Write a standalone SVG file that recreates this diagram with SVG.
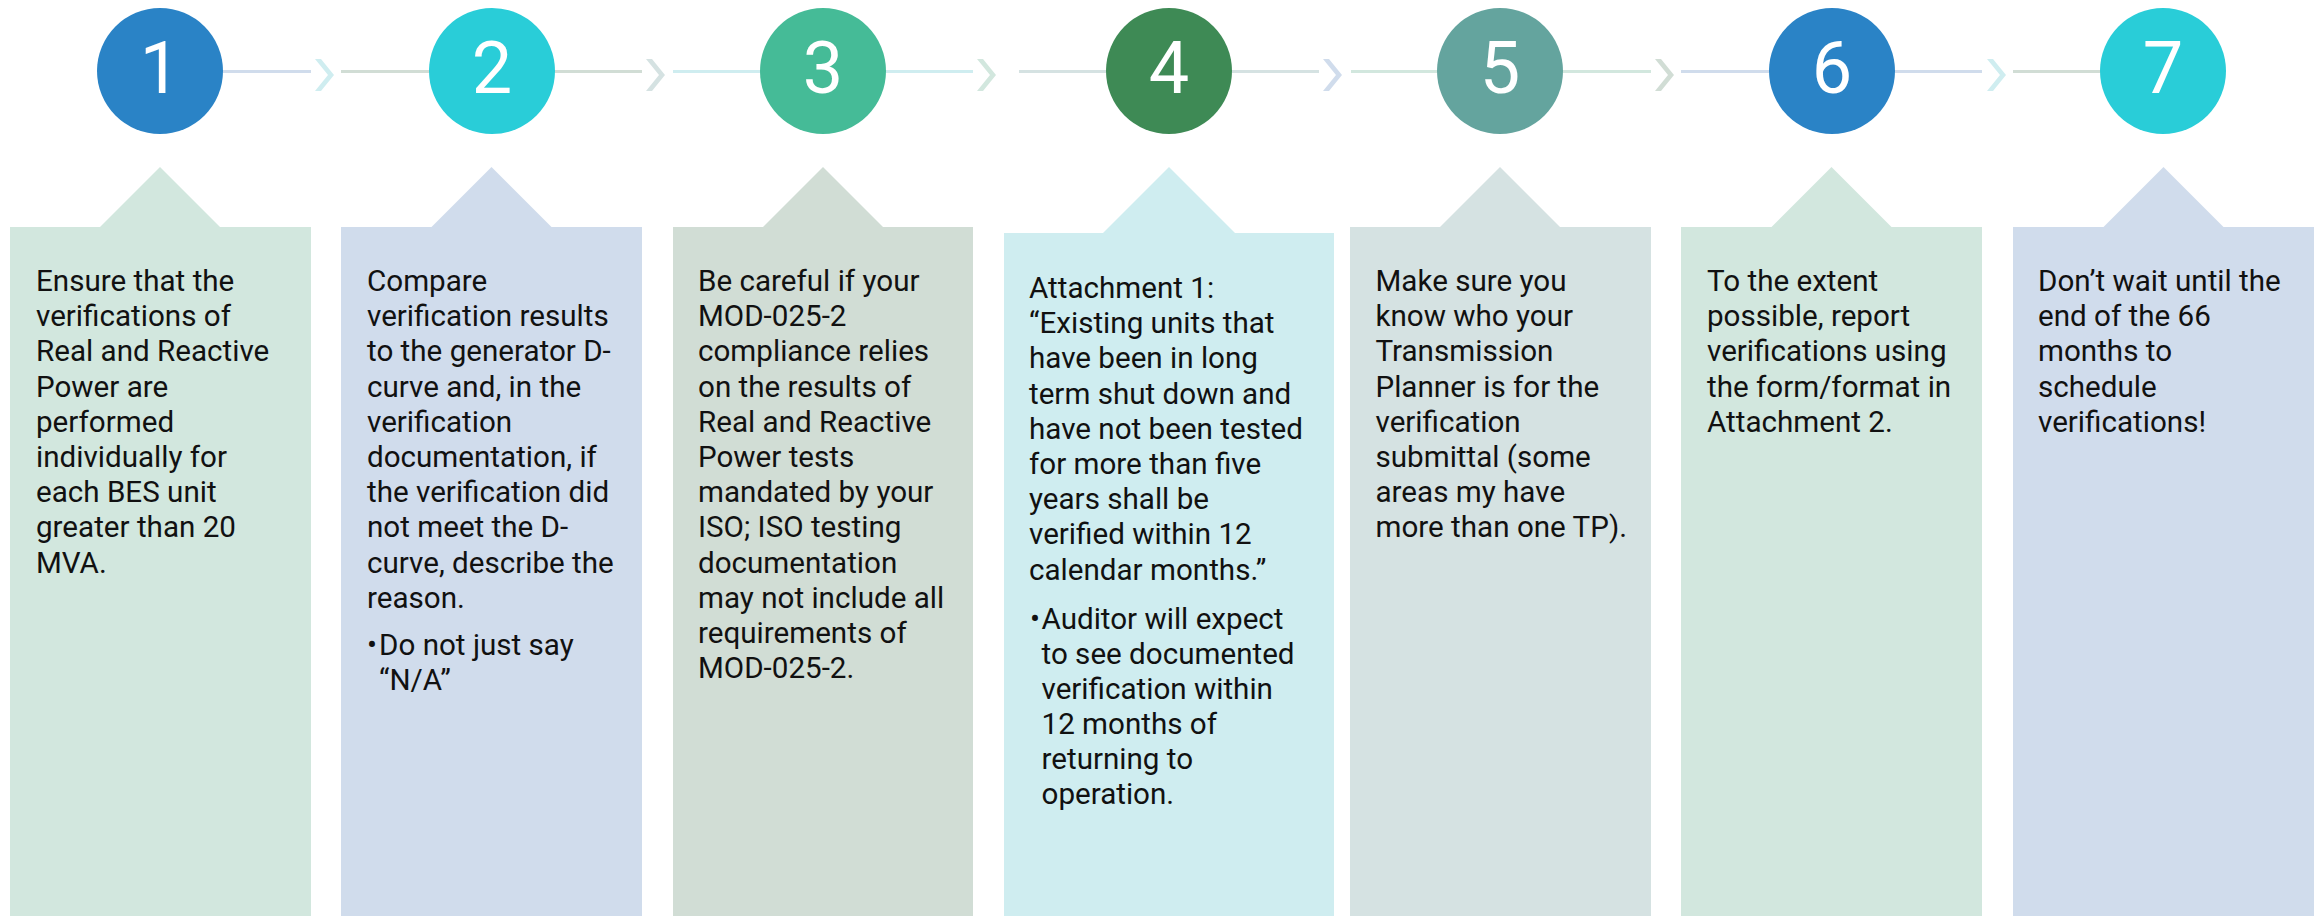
<svg xmlns="http://www.w3.org/2000/svg" width="2320" height="916" viewBox="0 0 2320 916">
<style>
.num{font-family:Roboto,"Liberation Sans",sans-serif;font-size:72px;fill:#ffffff;text-anchor:middle}
.t{font-family:Roboto,"Liberation Sans",sans-serif;font-size:29.6px;fill:#111111}
.seg{stroke-width:3;fill:none}
.cA{fill:#d2e7de}.cB{fill:#d0dcec}.cC{fill:#d1ddd5}.cD{fill:#cfedf0}.cE{fill:#d5e2e2}
.sA{stroke:#d2e7de}.sB{stroke:#d0dcec}.sC{stroke:#d1ddd5}.sD{stroke:#cfedf0}.sE{stroke:#d5e2e2}
</style>
<defs>
<polygon id="chev" points="0,0 6,0 19,16 6,32 0,32 13,16"/>
</defs>
<rect width="2320" height="916" fill="#ffffff"/>
<g id="connectors">
<line class="seg sB" x1="160" y1="71.5" x2="311" y2="71.5"/>
<use href="#chev" x="315" y="59" class="cD"/>
<line class="seg sC" x1="341" y1="71.5" x2="642" y2="71.5"/>
<use href="#chev" x="646" y="59" class="cE"/>
<line class="seg sD" x1="673" y1="71.5" x2="973" y2="71.5"/>
<use href="#chev" x="977" y="59" class="cA"/>
<line class="seg sE" x1="1019" y1="71.5" x2="1319" y2="71.5"/>
<use href="#chev" x="1323" y="59" class="cB"/>
<line class="seg sA" x1="1351" y1="71.5" x2="1651" y2="71.5"/>
<use href="#chev" x="1655" y="59" class="cC"/>
<line class="seg sB" x1="1681" y1="71.5" x2="1982" y2="71.5"/>
<use href="#chev" x="1987" y="59" class="cD"/>
<line class="seg sC" x1="2013" y1="71.5" x2="2163" y2="71.5"/>
</g>
<g id="step1">
<circle cx="160" cy="71" r="63" fill="#2a83c6"/>
<text class="num" x="160" y="93">1</text>
<path class="cA" d="M10,227 H100 L160,167 L220,227 H311 V916 H10 Z"/>
<text class="t"><tspan x="36" y="291">Ensure that the</tspan><tspan x="36" y="326.2">verifications of</tspan><tspan x="36" y="361.4">Real and Reactive</tspan><tspan x="36" y="396.6">Power are</tspan><tspan x="36" y="431.8">performed</tspan><tspan x="36" y="467">individually for</tspan><tspan x="36" y="502.2">each BES unit</tspan><tspan x="36" y="537.4">greater than 20</tspan><tspan x="36" y="572.6">MVA.</tspan></text>
</g>
<g id="step2">
<circle cx="492" cy="71" r="63" fill="#29cdd8"/>
<text class="num" x="492" y="93">2</text>
<path class="cB" d="M341,227 H431.5 L491.5,167 L551.5,227 H642 V916 H341 Z"/>
<text class="t"><tspan x="367" y="291">Compare</tspan><tspan x="367" y="326.2">verification results</tspan><tspan x="367" y="361.4">to the generator D-</tspan><tspan x="367" y="396.6">curve and, in the</tspan><tspan x="367" y="431.8">verification</tspan><tspan x="367" y="467">documentation, if</tspan><tspan x="367" y="502.2">the verification did</tspan><tspan x="367" y="537.4">not meet the D-</tspan><tspan x="367" y="572.6">curve, describe the</tspan><tspan x="367" y="607.8">reason.</tspan></text>
<text class="t"><tspan x="367" y="655">•</tspan><tspan x="379" y="655">Do not just say</tspan><tspan x="379" y="690">“N/A”</tspan></text>
</g>
<g id="step3">
<circle cx="823" cy="71" r="63" fill="#45bb97"/>
<text class="num" x="823" y="93">3</text>
<path class="cC" d="M673,227 H763 L823,167 L883,227 H973 V916 H673 Z"/>
<text class="t"><tspan x="698" y="291">Be careful if your</tspan><tspan x="698" y="326.2">MOD-025-2</tspan><tspan x="698" y="361.4">compliance relies</tspan><tspan x="698" y="396.6">on the results of</tspan><tspan x="698" y="431.8">Real and Reactive</tspan><tspan x="698" y="467">Power tests</tspan><tspan x="698" y="502.2">mandated by your</tspan><tspan x="698" y="537.4">ISO; ISO testing</tspan><tspan x="698" y="572.6">documentation</tspan><tspan x="698" y="607.8">may not include all</tspan><tspan x="698" y="643">requirements of</tspan><tspan x="698" y="678.2">MOD-025-2.</tspan></text>
</g>
<g id="step4">
<circle cx="1169" cy="71" r="63" fill="#3e8a55"/>
<text class="num" x="1169" y="93">4</text>
<path class="cD" d="M1004,233 H1103 L1169,167 L1235,233 H1334 V916 H1004 Z"/>
<text class="t"><tspan x="1029" y="298">Attachment 1:</tspan><tspan x="1029" y="333.2">“Existing units that</tspan><tspan x="1029" y="368.4">have been in long</tspan><tspan x="1029" y="403.6">term shut down and</tspan><tspan x="1029" y="438.8">have not been tested</tspan><tspan x="1029" y="474">for more than five</tspan><tspan x="1029" y="509.2">years shall be</tspan><tspan x="1029" y="544.4">verified within 12</tspan><tspan x="1029" y="579.6">calendar months.”</tspan></text>
<text class="t"><tspan x="1030" y="628.5">•</tspan><tspan x="1041.5" y="628.5">Auditor will expect</tspan><tspan x="1041.5" y="663.5">to see documented</tspan><tspan x="1041.5" y="698.5">verification within</tspan><tspan x="1041.5" y="733.5">12 months of</tspan><tspan x="1041.5" y="768.5">returning to</tspan><tspan x="1041.5" y="803.5">operation.</tspan></text>
</g>
<g id="step5">
<circle cx="1500" cy="71" r="63" fill="#64a49e"/>
<text class="num" x="1500" y="93">5</text>
<path class="cE" d="M1350,227 H1440 L1500,167 L1560,227 H1651 V916 H1350 Z"/>
<text class="t"><tspan x="1375.5" y="291">Make sure you</tspan><tspan x="1375.5" y="326.2">know who your</tspan><tspan x="1375.5" y="361.4">Transmission</tspan><tspan x="1375.5" y="396.6">Planner is for the</tspan><tspan x="1375.5" y="431.8">verification</tspan><tspan x="1375.5" y="467">submittal (some</tspan><tspan x="1375.5" y="502.2">areas my have</tspan><tspan x="1375.5" y="537.4">more than one TP).</tspan></text>
</g>
<g id="step6">
<circle cx="1832" cy="71" r="63" fill="#2a83c6"/>
<text class="num" x="1832" y="93">6</text>
<path class="cA" d="M1681,227 H1771.5 L1831.5,167 L1891.5,227 H1982 V916 H1681 Z"/>
<text class="t"><tspan x="1707" y="291">To the extent</tspan><tspan x="1707" y="326.2">possible, report</tspan><tspan x="1707" y="361.4">verifications using</tspan><tspan x="1707" y="396.6">the form/format in</tspan><tspan x="1707" y="431.8">Attachment 2.</tspan></text>
</g>
<g id="step7">
<circle cx="2163" cy="71" r="63" fill="#29cdd8"/>
<text class="num" x="2163" y="93">7</text>
<path class="cB" d="M2013,227 H2103.5 L2163.5,167 L2223.5,227 H2314 V916 H2013 Z"/>
<text class="t"><tspan x="2038" y="291">Don’t wait until the</tspan><tspan x="2038" y="326.2">end of the 66</tspan><tspan x="2038" y="361.4">months to</tspan><tspan x="2038" y="396.6">schedule</tspan><tspan x="2038" y="431.8">verifications!</tspan></text>
</g>
</svg>
